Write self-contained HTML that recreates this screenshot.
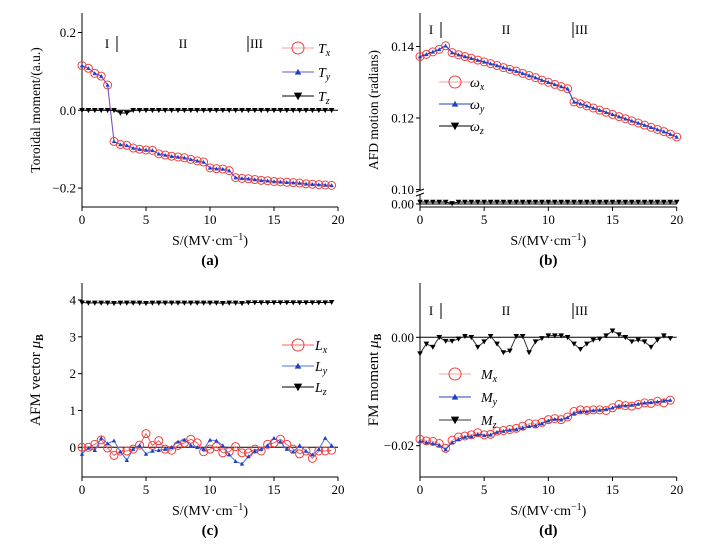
<!DOCTYPE html>
<html><head><meta charset="utf-8"><style>
body{margin:0;background:#fff;}
svg{display:block;font-family:"Liberation Serif",serif;}
</style></head><body>
<svg id="c" width="720" height="552" viewBox="0 0 720 552"></svg>
<script>
const xs=[0,0.5,1,1.5,2,2.5,3,3.5,4,4.5,5,5.5,6,6.5,7,7.5,8,8.5,9,9.5,10,10.5,11,11.5,12,12.5,13,13.5,14,14.5,15,15.5,16,16.5,17,17.5,18,18.5,19,19.5];
const xs41=xs.concat([20]);
const xTicks=[0,5,10,15,20];
// panel a
const aTx=[0.115,0.108,0.095,0.088,0.065,-0.080,-0.088,-0.090,-0.097,-0.100,-0.102,-0.103,-0.112,-0.115,-0.118,-0.120,-0.122,-0.126,-0.130,-0.133,-0.148,-0.150,-0.151,-0.155,-0.173,-0.175,-0.176,-0.178,-0.180,-0.181,-0.183,-0.184,-0.185,-0.186,-0.187,-0.189,-0.190,-0.191,-0.192,-0.193];
const aTy=aTx.slice();
const aTz=[0,0,0,0,0,0,-0.007,-0.007,0,0,0,0,0,0,0,0,0,0,0,0,0,0,0,0,0,0,0,0,0,0,0,0,0,0,0,0,0,0,0,0];
const aYTicks=[0.2,0.0,-0.2];
const aYLabels=["0.2","0.0","\u22120.2"];
// panel b
const bWx=[0.1372,0.1378,0.1385,0.1392,0.1402,0.1383,0.1378,0.1367,0.1357,0.1346,0.1335,0.1324,0.1313,0.1302,0.1291,0.1280,0.1269,0.1258,0.1247,0.1236,0.1225,0.1214,0.1203,0.1192,0.1181,0.1170,0.1159,0.1148,0.1137,0.1126,0.1115,0.1104,0.1093,0.1082,0.1071,0.1060,0.1049,0.1038,0.1027,0.1016,0.1005];
// adjust: real readings (segment 2.5..11.5 and 12..20)
const bWxR=[0.1372,0.1378,0.1385,0.1392,0.1402,0.1383,0.1377,0.1372,0.1367,0.1362,0.1357,0.1352,0.1347,0.1341,0.1336,0.1331,0.1325,0.1319,0.1313,0.1306,0.1300,0.1294,0.1288,0.1282,0.1245,0.1240,0.1234,0.1228,0.1222,0.1216,0.1210,0.1204,0.1198,0.1192,0.1186,0.1180,0.1174,0.1168,0.1162,0.1155,0.1147];
const bWy=bWxR.slice();
const bWz=[0.001,0.001,0.001,0.001,0.001,0.0003,0.001,0.001,0.001,0.001,0.001,0.001,0.001,0.001,0.001,0.001,0.001,0.001,0.001,0.001,0.001,0.001,0.001,0.001,0.001,0.001,0.001,0.001,0.001,0.001,0.001,0.001,0.001,0.001,0.001,0.001,0.001,0.001,0.001,0.001,0.001];
const bYTicks=[0.14,0.12,0.10];
const bYLabels=["0.14","0.12","0.10"];
// panel c
const cLx=[0.0,0.0,0.08,0.2,-0.02,-0.22,-0.1,-0.1,-0.05,0.06,0.37,0.05,0.18,-0.05,-0.08,0.05,0.12,0.22,0.12,-0.12,-0.05,0.02,-0.15,-0.12,0.02,-0.15,-0.15,-0.05,-0.1,0.08,0.12,0.22,0.08,-0.05,-0.18,-0.1,-0.3,-0.1,-0.1,-0.08];
const cLy=[-0.18,-0.02,-0.08,0.25,0.1,0.18,-0.12,-0.35,-0.05,0.05,-0.18,-0.1,-0.08,-0.05,0.0,0.15,0.2,0.05,0.0,-0.05,0.2,0.18,0.05,-0.2,-0.38,-0.45,-0.25,-0.1,-0.05,0.05,0.25,0.15,-0.05,-0.12,0.05,-0.1,-0.2,-0.05,0.25,0.05];
const cLz=[3.93,3.92,3.92,3.92,3.92,3.91,3.92,3.92,3.92,3.92,3.91,3.92,3.92,3.92,3.92,3.92,3.92,3.92,3.92,3.92,3.92,3.92,3.91,3.92,3.92,3.91,3.93,3.93,3.93,3.93,3.93,3.93,3.93,3.93,3.93,3.93,3.93,3.93,3.93,3.94];
const cYTicks=[4,3,2,1,0];
const cYLabels=["4","3","2","1","0"];
// panel d
const dMx=[-0.0188,-0.0191,-0.0192,-0.0196,-0.0205,-0.0190,-0.0184,-0.0182,-0.0180,-0.0176,-0.0180,-0.0179,-0.0173,-0.0172,-0.0170,-0.0168,-0.0164,-0.0159,-0.0160,-0.0157,-0.0152,-0.0150,-0.0152,-0.0147,-0.0137,-0.0134,-0.0135,-0.0134,-0.0134,-0.0135,-0.0130,-0.0124,-0.0126,-0.0127,-0.0124,-0.0121,-0.0122,-0.0118,-0.0121,-0.0116];
const dMy=[-0.0191,-0.0194,-0.0196,-0.0199,-0.0207,-0.0194,-0.0188,-0.0184,-0.0183,-0.0179,-0.0181,-0.0180,-0.0175,-0.0173,-0.0171,-0.0170,-0.0167,-0.0164,-0.0163,-0.0159,-0.0154,-0.0151,-0.0152,-0.0148,-0.0140,-0.0137,-0.0137,-0.0135,-0.0134,-0.0133,-0.0130,-0.0127,-0.0126,-0.0125,-0.0123,-0.0121,-0.0120,-0.0119,-0.0117,-0.0116];
const dMz=[-0.003,-0.0012,-0.0018,0,-0.0007,-0.0007,-0.0003,0.0002,0.0,-0.0018,-0.0008,0.0002,-0.0012,-0.0028,-0.0025,0.0002,0.0002,-0.0028,-0.0008,-0.0002,0.0003,0.0003,0.0003,0.0,-0.0012,-0.0022,-0.0012,-0.0005,-0.0003,0.0003,0.0012,0.0005,0.0,-0.0008,-0.0005,-0.0008,-0.0018,-0.0005,0.0003,-0.0002];
const dYTicks=[0.00,-0.02];
const dYLabels=["0.00","\u22120.02"];

const NS="http://www.w3.org/2000/svg";
const svg=document.getElementById('c');
function mk(tag,attrs,parent,text){const e=document.createElementNS(NS,tag);for(const k in attrs)e.setAttribute(k,attrs[k]);if(text!==undefined)e.textContent=text;(parent||svg).appendChild(e);return e;}

function panel(o){
  const g=mk('g',{});
  
  
  const X=v=>o.x0+(v/20)*(o.x1-o.x0);
  const Y=o.Y;
  // axes
  const ax=mk('line',{x1:o.x0,y1:o.top,x2:o.x0,y2:o.bot,stroke:'#000','stroke-width':1},g);
  
  const bx=mk('line',{x1:o.x0,y1:o.bot,x2:o.x1,y2:o.bot,stroke:'#000','stroke-width':1},g);
  
  xTicks.forEach(t=>{
    mk('line',{x1:X(t),y1:o.bot,x2:X(t),y2:o.bot+4,stroke:'#000'},g);
    const tl=mk('text',{x:X(t),y:o.bot+17,'font-size':13,'text-anchor':'middle'},g,String(t));
    
  });
  o.yt.forEach((t,i)=>{
    mk('line',{x1:o.x0-4,y1:Y(t),x2:o.x0,y2:Y(t),stroke:'#000'},g);
    const tl=mk('text',{x:o.x0-6,y:Y(t)+4.5,'font-size':13,'text-anchor':'end'},g,o.yl[i]);
    
  });
  if(o.zero!==undefined) mk('line',{x1:o.x0,y1:Y(o.zero),x2:o.x1,y2:Y(o.zero),stroke:'#000','stroke-width':1},g);
  // x title
  const xt=mk('text',{x:(o.x0+o.x1)/2,y:o.bot+38,'font-size':14,'text-anchor':'middle'},g);
  
  mk('tspan',{},xt,'S/(MV\u00b7cm');mk('tspan',{dy:-5,'font-size':10},xt,'\u22121');mk('tspan',{dy:5},xt,')');
  const cap=mk('text',{x:(o.x0+o.x1)/2,y:o.bot+58,'font-size':15,'font-weight':'bold','text-anchor':'middle'},g,o.cap);
  
  const yt=mk('text',{x:0,y:0,'font-size':o.ytSize||13.5,'text-anchor':'middle',transform:`translate(${o.x0-42},${(o.top+o.bot)/2}) rotate(-90)`},g);
  
  mk('tspan',{},yt,o.ytitle);
  if(o.ytSub){mk('tspan',{'font-style':'italic'},yt,' \u03bc');mk('tspan',{dy:3,'font-size':10,'font-weight':'bold'},yt,'B');}
  // regions
  if(o.regions){
    const r=o.regions;
    const t1=mk('text',{x:r.x[0],y:r.y,'font-size':13,'text-anchor':'middle'},g,'I');
    
    mk('line',{x1:r.x[1],y1:r.y-12,x2:r.x[1],y2:r.y+4,stroke:'#000'},g);
    const t2=mk('text',{x:r.x[2],y:r.y,'font-size':13,'text-anchor':'middle'},g,'II');
    
    mk('line',{x1:r.x[3],y1:r.y-12,x2:r.x[3],y2:r.y+4,stroke:'#000'},g);
    const t3=mk('text',{x:r.x[3]+2,y:r.y,'font-size':13},g,'III');
    
  }
  // series
  o.series.forEach(s=>{
    const sg=mk('g',{},g);
    
    const pts=s.v.map((v,i)=>[X(s.x[i]),Y(v)]);
    mk('polyline',{points:pts.map(p=>p.join(',')).join(' '),fill:'none',stroke:s.line,'stroke-width':s.lw||1},sg);
    pts.forEach(p=>marker(sg,s.m,p[0],p[1]));
  });
  // legend
  o.series.forEach((s,i)=>{
    const ly=o.leg.y+i*o.leg.dy;
    const lg=mk('g',{},g);
    
    mk('line',{x1:o.leg.x-16,y1:ly,x2:o.leg.x+16,y2:ly,stroke:s.line,'stroke-width':1},lg);
    marker(lg,s.m,o.leg.x,ly,1.5);
    const t=mk('text',{x:o.leg.tx,y:ly+5,'font-size':14,'font-style':'italic'},lg,s.lab[0]);
    mk('tspan',{dy:3,'font-size':10},t,s.lab[1]);
  });
}
function marker(g,m,x,y,sc){
  sc=sc||1;
  if(m==='o'){mk('circle',{cx:x,cy:y,r:4*sc,fill:'none',stroke:'#f04040','stroke-width':1},g);}
  else if(m==='^'){const r=2.2*sc;mk('polygon',{points:`${x},${y-r} ${x-r},${y+r*0.8} ${x+r},${y+r*0.8}`,fill:'#2040c0'},g);}
  else if(m==='v'){const r=2.8*sc;mk('polygon',{points:`${x-r},${y-r*0.8} ${x+r},${y-r*0.8} ${x},${y+r}`,fill:'#000'},g);}
}
const lab=(a,b)=>[a,b];
// a
panel({name:'panel-a',cap:'(a)',x0:82,x1:338,top:13,bot:207,
  Y:v=>110.3-v*389,yt:aYTicks,yl:aYLabels,zero:0,ytitle:'Toroidal moment/(a.u.)',
  regions:{x:[107,117,183,248],y:48},
  leg:{x:298,tx:318,y:48,dy:24},
  series:[{id:'tx',x:xs,v:aTx,m:'o',line:'#f8a0a0',lab:lab('T','x')},{id:'ty',x:xs,v:aTy,m:'^',line:'#7050d0',lab:lab('T','y')},{id:'tz',x:xs,v:aTz,m:'v',line:'#000',lab:lab('T','z')}]});
// b
panel({name:'panel-b',cap:'(b)',x0:420,x1:676.7,top:13,bot:207,
  Y:v=>v<0.05?204-v*2000:118-(v-0.12)*3575,yt:bYTicks,yl:bYLabels,ytitle:'AFD motion (radians)',
  regions:{x:[431,441,506,573],y:34},
  leg:{x:455,tx:470,y:82,dy:22},
  series:[{id:'wx',x:xs41,v:bWxR,m:'o',line:'#f8a0a0',lab:lab('\u03c9','x')},{id:'wy',x:xs41,v:bWy,m:'^',line:'#2040c0',lab:lab('\u03c9','y')},{id:'wz',x:xs41,v:bWz,m:'v',line:'#000',lab:lab('\u03c9','z')}]});
(function(){const g=mk('g',{});
 mk('rect',{x:416,y:190,width:8,height:5,fill:'#fff'},g);
 mk('line',{x1:416,y1:192,x2:424,y2:189,stroke:'#000'},g);mk('line',{x1:416,y1:196,x2:424,y2:193,stroke:'#000'},g);
 mk('line',{x1:416,y1:204,x2:420,y2:204,stroke:'#000'},g);
 const t=mk('text',{x:414,y:208.5,'font-size':13,'text-anchor':'end'},g,'0.00');
 mk('line',{x1:420,y1:204,x2:676.7,y2:204,stroke:'#000'},g);})();
// c
panel({name:'panel-c',cap:'(c)',x0:82,x1:338,top:283,bot:477,
  Y:v=>447.3-v*36.83,yt:cYTicks,yl:cYLabels,zero:0,ytitle:'AFM vector',ytSub:true,ytSize:15,
  leg:{x:298,tx:315,y:345,dy:21},
  series:[{id:'lx',x:xs,v:cLx,m:'o',line:'#f06060',lab:lab('L','x')},{id:'ly',x:xs,v:cLy,m:'^',line:'#5070e0',lab:lab('L','y')},{id:'lz',x:xs,v:cLz,m:'v',line:'#000',lab:lab('L','z')}]});
// d
panel({name:'panel-d',cap:'(d)',x0:420,x1:676.7,top:283,bot:477,
  Y:v=>337.3-v*5420,yt:dYTicks,yl:dYLabels,zero:0,ytitle:'FM moment',ytSub:true,ytSize:15,
  regions:{x:[431,441,506,573],y:315},
  leg:{x:455,tx:481,y:374,dy:23},
  series:[{id:'mx',x:xs,v:dMx,m:'o',line:'#f8a0a0',lab:lab('M','x')},{id:'my',x:xs,v:dMy,m:'^',line:'#2040c0',lab:lab('M','y')},{id:'mz',x:xs,v:dMz,m:'v',line:'#333',lab:lab('M','z')}]});
</script>
</body></html>
